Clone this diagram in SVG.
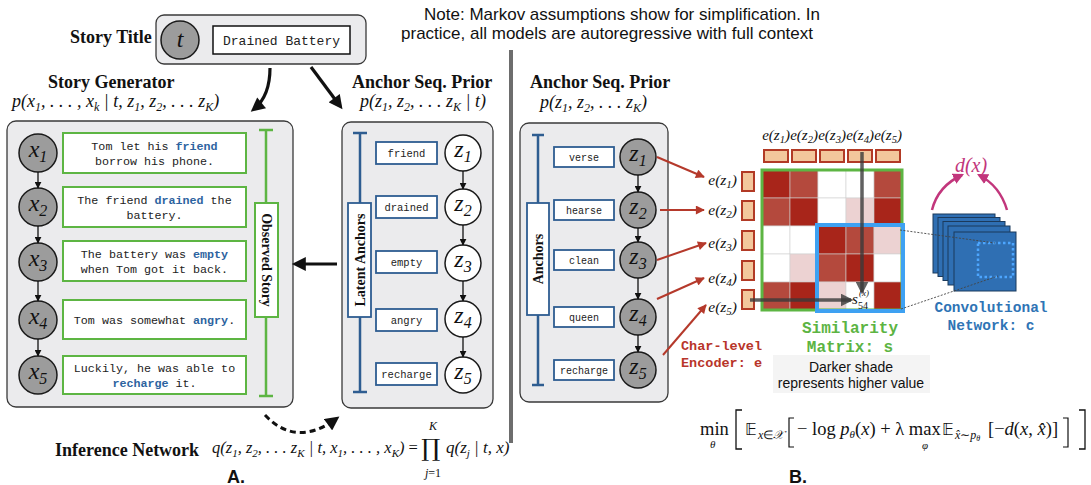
<svg xmlns="http://www.w3.org/2000/svg" width="1091" height="485" viewBox="0 0 1091 485">
  <defs>
    <marker id="ah" viewBox="0 0 10 10" refX="7" refY="5" markerWidth="15" markerHeight="14" markerUnits="userSpaceOnUse" orient="auto">
      <path d="M0,0 L10,5 L0,10 z" fill="#111"/>
    </marker>
    <marker id="sa" viewBox="0 0 10 10" refX="9" refY="5" markerWidth="7" markerHeight="7" markerUnits="userSpaceOnUse" orient="auto">
      <path d="M0,0 L10,5 L0,10 z" fill="#111"/>
    </marker>
    <marker id="ra" viewBox="0 0 10 10" refX="9" refY="5" markerWidth="10" markerHeight="9" markerUnits="userSpaceOnUse" orient="auto">
      <path d="M0,0 L10,5 L0,10 z" fill="#b5392b"/>
    </marker>
    <marker id="ga" viewBox="0 0 10 10" refX="8" refY="5" markerWidth="13" markerHeight="13" markerUnits="userSpaceOnUse" orient="auto">
      <path d="M0,0 L10,5 L0,10 z" fill="#3a3a3a" fill-opacity="0.8"/>
    </marker>
    <marker id="ma" viewBox="0 0 10 10" refX="8" refY="5" markerWidth="11" markerHeight="11" markerUnits="userSpaceOnUse" orient="auto">
      <path d="M0,0 L10,5 L0,10 z" fill="#c2367c"/>
    </marker>
    <style>
      .panel { fill:#ebebed; stroke:#3a3a3a; stroke-width:1.3 }
      .gc { fill:#9c9c9c; stroke:#1a1a1a; stroke-width:1.5 }
      .wc { fill:#fff; stroke:#1a1a1a; stroke-width:1.5 }
      .sbox { fill:#fff; stroke:#5db543; stroke-width:2 }
      .wbox { fill:#fff; stroke:#2e5d91; stroke-width:1.8 }
      .tb { font-family:"Liberation Serif",serif; font-weight:bold; font-size:18px; fill:#111 }
      .rb { font-family:"Liberation Serif",serif; font-weight:bold; font-size:14px; fill:#111 }
      .mi { font-family:"Liberation Serif",serif; font-style:italic; fill:#111 }
      .rm { font-family:"Liberation Serif",serif; fill:#111 }
      .mono { font-family:"Liberation Mono",monospace; fill:#222 }
      .hl { font-weight:bold; fill:#2d63a0 }
      .sans { font-family:"Liberation Sans",Arial,sans-serif; fill:#111 }
      .red-t { font-family:"Liberation Mono",monospace; font-weight:bold; font-size:13.5px; fill:#b8352a }
      .green-t { font-family:"Liberation Mono",monospace; font-weight:bold; font-size:16px; fill:#5cb443 }
      .blue-t { font-family:"Liberation Mono",monospace; font-weight:bold; font-size:14.5px; fill:#2f74b5 }
      .chain { stroke:#111; stroke-width:1.3; fill:none; marker-end:url(#sa) }
      .thick { stroke:#111; stroke-width:3.2; fill:none; marker-end:url(#ah) }
      .red { stroke:#b5392b; stroke-width:2; fill:none; marker-end:url(#ra) }
      .gbr { stroke:#5db543; stroke-width:2.5; fill:none }
      .bbr { stroke:#2e5d91; stroke-width:2.5; fill:none }
      .peach { fill:#f3c79c; stroke:#b23a25; stroke-width:2 }
      .D { fill:#a8251a } .M { fill:#b4493d } .L { fill:#ecd2d2 } .W { fill:#ffffff }
      .layer { fill:#2f6fb3; stroke:#1b3a5c; stroke-width:1 }
    </style>
  </defs>

  <!-- header note -->
  <g id="note" class="sans" font-size="17" text-anchor="middle">
    <text x="622" y="20">Note: Markov assumptions show for simplification. In</text>
    <text x="607" y="39">practice, all models are autoregressive with full context</text>
  </g>

  <!-- divider between the two halves -->
  <line x1="511" y1="50" x2="511" y2="443" stroke="#6d6d6d" stroke-width="4"/>

  <!-- ============ A. ============ -->
  <g id="story-title">
    <text x="70" y="43" class="tb">Story Title</text>
    <rect x="156" y="15" width="210" height="49" rx="8" class="panel"/>
    <circle cx="180" cy="40" r="19" class="gc"/>
    <text x="180" y="47" class="mi" font-size="24" text-anchor="middle">t</text>
    <rect x="213" y="26" width="137" height="28" fill="#fff" stroke="#111" stroke-width="1.5"/>
    <text x="281.5" y="45" class="mono" font-size="13" text-anchor="middle">Drained Battery</text>
  </g>

  <g id="story-generator">
    <text x="48" y="88" class="tb">Story Generator</text>
    <text x="12" y="107" class="mi" font-size="18">p(x<tspan dy="4" font-size="12">1</tspan><tspan dy="-4">, . . . , x</tspan><tspan dy="4" font-size="12">k</tspan><tspan dy="-4"> | t, z</tspan><tspan dy="4" font-size="12">1</tspan><tspan dy="-4">, z</tspan><tspan dy="4" font-size="12">2</tspan><tspan dy="-4">, . . . z</tspan><tspan dy="4" font-size="12">K</tspan><tspan dy="-4">)</tspan></text>
    <rect x="7" y="121" width="286" height="286" rx="9" class="panel"/>
  </g>

  <g id="x-nodes" class="mi" text-anchor="middle">
    <circle cx="38" cy="153" r="19" class="gc"/>
    <text x="38" y="157" font-size="24">x<tspan dy="5" font-size="16">1</tspan></text>
    <circle cx="38" cy="207" r="19" class="gc"/>
    <text x="38" y="211" font-size="24">x<tspan dy="5" font-size="16">2</tspan></text>
    <circle cx="38" cy="262" r="19" class="gc"/>
    <text x="38" y="266" font-size="24">x<tspan dy="5" font-size="16">3</tspan></text>
    <circle cx="38" cy="320" r="19" class="gc"/>
    <text x="38" y="324" font-size="24">x<tspan dy="5" font-size="16">4</tspan></text>
    <circle cx="38" cy="375" r="19" class="gc"/>
    <text x="38" y="379" font-size="24">x<tspan dy="5" font-size="16">5</tspan></text>
  </g>

  <g id="sentences" class="mono" font-size="11.7" text-anchor="middle">
    <rect x="63" y="133" width="183" height="40" class="sbox"/>
    <text x="154.5" y="150">Tom let his <tspan class="hl">friend</tspan></text>
    <text x="154.5" y="165">borrow his phone.</text>
    <rect x="63" y="187" width="183" height="40" class="sbox"/>
    <text x="154.5" y="204">The friend <tspan class="hl">drained</tspan> the</text>
    <text x="154.5" y="219">battery.</text>
    <rect x="63" y="241" width="183" height="40" class="sbox"/>
    <text x="154.5" y="258">The battery was <tspan class="hl">empty</tspan></text>
    <text x="154.5" y="273">when Tom got it back.</text>
    <rect x="63" y="300" width="183" height="39" class="sbox"/>
    <text x="154.5" y="324">Tom was somewhat <tspan class="hl">angry</tspan>.</text>
    <rect x="63" y="356" width="183" height="38" class="sbox"/>
    <text x="154.5" y="372">Luckily, he was able to</text>
    <text x="154.5" y="387"><tspan class="hl">recharge</tspan> it.</text>
  </g>

  <g id="observed-story">
    <path class="gbr" d="M266,130 V396 M259,130 H273 M259,396 H273"/>
    <rect x="255" y="203" width="23" height="114" fill="#fff" stroke="#5db543" stroke-width="2"/>
    <text x="266.5" y="265" class="rb" text-anchor="middle" transform="rotate(90 266.5 260)">Observed Story</text>
  </g>

  <g id="anchor-prior-a">
    <text x="352" y="88" class="tb">Anchor Seq. Prior</text>
    <text x="360" y="107" class="mi" font-size="18">p(z<tspan dy="4" font-size="12">1</tspan><tspan dy="-4">, z</tspan><tspan dy="4" font-size="12">2</tspan><tspan dy="-4">, . . . z</tspan><tspan dy="4" font-size="12">K</tspan><tspan dy="-4"> | t)</tspan></text>
    <rect x="342" y="122" width="151" height="286" rx="9" class="panel"/>
  </g>

  <g id="latent-anchors">
    <path class="bbr" d="M360,133 V392 M353,133 H367 M353,392 H367"/>
    <rect x="348" y="203" width="23" height="114" fill="#fff" stroke="#2e5d91" stroke-width="1.8"/>
    <text x="359.5" y="265" class="rb" text-anchor="middle" transform="rotate(-90 359.5 260)">Latent Anchors</text>
  </g>

  <g id="anchor-words-a" class="mono" font-size="10.5" text-anchor="middle">
    <rect x="376" y="142" width="61" height="22" class="wbox"/>
    <text x="406.5" y="157">friend</text>
    <rect x="376" y="196" width="61" height="22" class="wbox"/>
    <text x="406.5" y="211">drained</text>
    <rect x="376" y="251" width="61" height="22" class="wbox"/>
    <text x="406.5" y="266">empty</text>
    <rect x="376" y="309" width="61" height="22" class="wbox"/>
    <text x="406.5" y="324">angry</text>
    <rect x="376" y="363" width="61" height="22" class="wbox"/>
    <text x="406.5" y="378">recharge</text>
  </g>

  <g id="z-nodes-a" class="mi" text-anchor="middle">
    <circle cx="463" cy="153" r="18" class="wc"/>
    <text x="463" y="157" font-size="24">z<tspan dy="5" font-size="16">1</tspan></text>
    <circle cx="463" cy="207" r="18" class="wc"/>
    <text x="463" y="211" font-size="24">z<tspan dy="5" font-size="16">2</tspan></text>
    <circle cx="463" cy="263" r="18" class="wc"/>
    <text x="463" y="267" font-size="24">z<tspan dy="5" font-size="16">3</tspan></text>
    <circle cx="463" cy="319" r="18" class="wc"/>
    <text x="463" y="323" font-size="24">z<tspan dy="5" font-size="16">4</tspan></text>
    <circle cx="463" cy="375" r="18" class="wc"/>
    <text x="463" y="379" font-size="24">z<tspan dy="5" font-size="16">5</tspan></text>
  </g>

  <g id="inference-network">
    <text x="55" y="456" class="tb">Inference Network</text>
    <text x="212" y="453" class="mi" font-size="16.5">q(z<tspan dy="4" font-size="11">1</tspan><tspan dy="-4">, z</tspan><tspan dy="4" font-size="11">2</tspan><tspan dy="-4">, . . . z</tspan><tspan dy="4" font-size="11">K</tspan><tspan dy="-4"> | t, x</tspan><tspan dy="4" font-size="11">1</tspan><tspan dy="-4">, . . . , x</tspan><tspan dy="4" font-size="11">K</tspan><tspan dy="-4">) </tspan><tspan font-style="normal">=</tspan></text>
    <text x="421" y="456" font-family="DejaVu Serif" font-size="24" fill="#111">∏</text>
    <text x="433" y="430" class="mi" font-size="12" text-anchor="middle">K</text>
    <text x="433" y="477" class="mi" font-size="12" text-anchor="middle">j<tspan font-style="normal">=1</tspan></text>
    <text x="446" y="453" class="mi" font-size="17">q(z<tspan dy="4" font-size="11">j</tspan><tspan dy="-4"> | t, x)</tspan></text>
  </g>

  <text id="label-a" x="227" y="483" class="sans" font-size="18" font-weight="bold">A.</text>

  <!-- ============ B. ============ -->
  <g id="anchor-prior-b">
    <text x="530" y="88" class="tb">Anchor Seq. Prior</text>
    <text x="540" y="108" class="mi" font-size="18">p(z<tspan dy="4" font-size="12">1</tspan><tspan dy="-4">, z</tspan><tspan dy="4" font-size="12">2</tspan><tspan dy="-4">, . . . z</tspan><tspan dy="4" font-size="12">K</tspan><tspan dy="-4">)</tspan></text>
    <rect x="520" y="123" width="148" height="279" rx="9" class="panel"/>
  </g>

  <g id="anchors-b">
    <path class="bbr" d="M538,135 V385 M532,135 H544 M532,385 H544"/>
    <rect x="527" y="203" width="22" height="112" fill="#fff" stroke="#2e5d91" stroke-width="1.8"/>
    <text x="538" y="264" class="rb" text-anchor="middle" transform="rotate(-90 538 259)">Anchors</text>
  </g>

  <g id="anchor-words-b" class="mono" font-size="10" text-anchor="middle">
    <rect x="554" y="147" width="60" height="20" class="wbox"/>
    <text x="584" y="161">verse</text>
    <rect x="554" y="200" width="60" height="20" class="wbox"/>
    <text x="584" y="214">hearse</text>
    <rect x="554" y="250" width="60" height="20" class="wbox"/>
    <text x="584" y="264">clean</text>
    <rect x="554" y="307" width="60" height="20" class="wbox"/>
    <text x="584" y="321">queen</text>
    <rect x="554" y="360" width="60" height="20" class="wbox"/>
    <text x="584" y="374">recharge</text>
  </g>

  <g id="z-nodes-b" class="mi" text-anchor="middle">
    <circle cx="638" cy="157" r="18" class="gc"/>
    <text x="638" y="161" font-size="24">z<tspan dy="5" font-size="16">1</tspan></text>
    <circle cx="638" cy="210" r="18" class="gc"/>
    <text x="638" y="214" font-size="24">z<tspan dy="5" font-size="16">2</tspan></text>
    <circle cx="638" cy="260" r="18" class="gc"/>
    <text x="638" y="264" font-size="24">z<tspan dy="5" font-size="16">3</tspan></text>
    <circle cx="638" cy="317" r="18" class="gc"/>
    <text x="638" y="321" font-size="24">z<tspan dy="5" font-size="16">4</tspan></text>
    <circle cx="638" cy="370" r="18" class="gc"/>
    <text x="638" y="374" font-size="24">z<tspan dy="5" font-size="16">5</tspan></text>
  </g>

  <g id="encoder">
    <g class="mi" font-size="15.5" text-anchor="end">
      <text x="737" y="185">e(z<tspan dy="3" font-size="11">1</tspan><tspan dy="-3">)</tspan></text>
      <text x="737" y="215">e(z<tspan dy="3" font-size="11">2</tspan><tspan dy="-3">)</tspan></text>
      <text x="737" y="248">e(z<tspan dy="3" font-size="11">3</tspan><tspan dy="-3">)</tspan></text>
      <text x="737" y="283">e(z<tspan dy="3" font-size="11">4</tspan><tspan dy="-3">)</tspan></text>
      <text x="737" y="312">e(z<tspan dy="3" font-size="11">5</tspan><tspan dy="-3">)</tspan></text>
    </g>
    <rect x="742" y="172" width="12" height="19" class="peach"/>
    <rect x="742" y="201" width="12" height="19" class="peach"/>
    <rect x="742" y="231" width="12" height="19" class="peach"/>
    <rect x="742" y="261" width="12" height="19" class="peach"/>
    <rect x="742" y="290" width="12" height="19" class="peach"/>
    <g class="mi" font-size="15" text-anchor="middle">
      <text x="776" y="140">e(z<tspan dy="3" font-size="10.5">1</tspan><tspan dy="-3">)</tspan></text>
      <text x="804" y="140">e(z<tspan dy="3" font-size="10.5">2</tspan><tspan dy="-3">)</tspan></text>
      <text x="832" y="140">e(z<tspan dy="3" font-size="10.5">3</tspan><tspan dy="-3">)</tspan></text>
      <text x="860" y="140">e(z<tspan dy="3" font-size="10.5">4</tspan><tspan dy="-3">)</tspan></text>
      <text x="888" y="140">e(z<tspan dy="3" font-size="10.5">5</tspan><tspan dy="-3">)</tspan></text>
    </g>
    <rect x="764" y="150" width="24" height="12" class="peach"/>
    <rect x="792" y="150" width="24" height="12" class="peach"/>
    <rect x="820" y="150" width="24" height="12" class="peach"/>
    <rect x="848" y="150" width="24" height="12" class="peach"/>
    <rect x="876" y="150" width="24" height="12" class="peach"/>
    <text x="681" y="350" class="red-t">Char-level</text>
    <text x="681" y="367" class="red-t">Encoder: e</text>
  </g>

  <g id="similarity-matrix">
    <g stroke="#cfcfcf" stroke-width="0.6">
      <rect x="762" y="170" width="28" height="28" class="D"/><rect x="790" y="170" width="28" height="28" class="M"/><rect x="818" y="170" width="28" height="28" class="W"/><rect x="846" y="170" width="28" height="28" class="W"/><rect x="874" y="170" width="28" height="28" class="M"/>
      <rect x="762" y="198" width="28" height="28" class="M"/><rect x="790" y="198" width="28" height="28" class="D"/><rect x="818" y="198" width="28" height="28" class="W"/><rect x="846" y="198" width="28" height="28" class="L"/><rect x="874" y="198" width="28" height="28" class="D"/>
      <rect x="762" y="226" width="28" height="28" class="W"/><rect x="790" y="226" width="28" height="28" class="W"/><rect x="818" y="226" width="28" height="28" class="D"/><rect x="846" y="226" width="28" height="28" class="M"/><rect x="874" y="226" width="28" height="28" class="L"/>
      <rect x="762" y="254" width="28" height="28" class="W"/><rect x="790" y="254" width="28" height="28" class="L"/><rect x="818" y="254" width="28" height="28" class="M"/><rect x="846" y="254" width="28" height="28" class="D"/><rect x="874" y="254" width="28" height="28" class="W"/>
      <rect x="762" y="282" width="28" height="28" class="M"/><rect x="790" y="282" width="28" height="28" class="D"/><rect x="818" y="282" width="28" height="28" class="L"/><rect x="846" y="282" width="28" height="28" class="W"/><rect x="874" y="282" width="28" height="28" class="D"/>
    </g>
    <rect x="762" y="170" width="140" height="140" fill="none" stroke="#5db543" stroke-width="3"/>
    <rect x="817" y="225" width="86" height="86" fill="none" stroke="#3ea1f2" stroke-width="4"/>
    <text x="852" y="304" class="mi" font-size="15">s</text>
    <text x="859" y="296" class="mi" font-size="9">(x)</text>
    <text x="858" y="309" class="rm" font-size="10">54</text>
    <text x="850" y="333" class="green-t" text-anchor="middle">Similarity</text>
    <text x="850" y="352" class="green-t" text-anchor="middle">Matrix: s</text>
    <rect x="773" y="355" width="157" height="38" fill="#f4f4f4"/>
    <text x="851" y="372" class="sans" font-size="14" text-anchor="middle">Darker shade</text>
    <text x="851" y="388" class="sans" font-size="14" text-anchor="middle">represents higher value</text>
  </g>

  <g id="conv-network">
    <rect x="933" y="214" width="62" height="59" class="layer"/>
    <rect x="938" y="217.5" width="62" height="59" class="layer"/>
    <rect x="943" y="221.5" width="62" height="59" class="layer"/>
    <rect x="948" y="226" width="62" height="59" class="layer"/>
    <rect x="954" y="232" width="62" height="59" class="layer"/>
    <rect x="978" y="243" width="35" height="34" fill="none" stroke="#4da6ff" stroke-width="2.5" stroke-dasharray="2.5,2.5"/>
    <text x="991" y="312" class="blue-t" text-anchor="middle">Convolutional</text>
    <text x="991" y="330" class="blue-t" text-anchor="middle">Network: c</text>
    <text x="971" y="172" class="mi" font-size="20" text-anchor="middle" style="fill:#c2367c">d(x)</text>
  </g>

  <g id="loss" class="rm" font-size="18.5">
    <text x="700" y="435">min</text>
    <text x="710" y="448" class="mi" font-size="11">θ</text>
    <path d="M742,410 H736 V449 H742" fill="none" stroke="#111" stroke-width="1.3"/>
    <text x="745" y="435" font-family="DejaVu Sans" font-size="16">𝔼</text>
    <text x="758" y="439" class="mi" font-size="12">x<tspan font-style="normal">∈</tspan>𝒳</text>
    <path d="M794,418 H789 V447 H794" fill="none" stroke="#111" stroke-width="1.2"/>
    <text x="797" y="435">− log <tspan font-style="italic">p</tspan><tspan dy="3" font-size="11" font-style="italic">θ</tspan><tspan dy="-3">(</tspan><tspan font-style="italic">x</tspan>) + λ max</text>
    <text x="922" y="449" class="mi" font-size="11">φ</text>
    <text x="942" y="435" font-family="DejaVu Sans" font-size="16">𝔼</text>
    <text x="955" y="439" class="mi" font-size="12">x̂<tspan font-style="normal">∼</tspan>p<tspan dy="2" font-size="8">θ</tspan></text>
    <text x="988" y="435">[−<tspan font-style="italic">d</tspan>(<tspan font-style="italic">x</tspan>, <tspan font-style="italic">x̂</tspan>)]</text>
    <path d="M1063,418 H1068 V447 H1063" fill="none" stroke="#111" stroke-width="1.2"/>
    <path d="M1079,410 H1085 V449 H1079" fill="none" stroke="#111" stroke-width="1.3"/>
  </g>

  <text id="label-b" x="789" y="483" class="sans" font-size="18" font-weight="bold">B.</text>

  <!-- connectors -->
  <g id="connectors">
    <path class="thick" d="M270,68 Q270,96 254,109"/>
    <path class="thick" d="M311,67 L340,106"/>
    <path class="thick" d="M337,264 L296,264"/>
    <path d="M265,415 Q296,448 336,419" fill="none" stroke="#111" stroke-width="3" stroke-dasharray="6,4" marker-end="url(#ah)"/>
    <path class="chain" d="M38,172 V188"/>
    <path class="chain" d="M38,226 V243"/>
    <path class="chain" d="M38,281 V301"/>
    <path class="chain" d="M38,339 V356"/>
    <path class="chain" d="M463,171 V189"/>
    <path class="chain" d="M463,225 V245"/>
    <path class="chain" d="M463,281 V301"/>
    <path class="chain" d="M463,337 V357"/>
    <path class="chain" d="M638,175 V192"/>
    <path class="chain" d="M638,228 V242"/>
    <path class="chain" d="M638,278 V299"/>
    <path class="chain" d="M638,335 V352"/>
    <path class="red" d="M657,157 L704,177"/>
    <path class="red" d="M660,210 L704,210"/>
    <path class="red" d="M657,260 L706,243"/>
    <path class="red" d="M657,299 L704,278"/>
    <path class="red" d="M663,355 L706,305"/>
    <path d="M862,152 V292" stroke="#3a3a3a" stroke-opacity="0.8" stroke-width="3.5" fill="none" marker-end="url(#ga)"/>
    <path d="M750,300 H851" stroke="#3a3a3a" stroke-opacity="0.8" stroke-width="3.5" fill="none" marker-end="url(#ga)"/>
    <path d="M900,230 L995,243 M901,309 L998,276" stroke="#444" stroke-width="0.9" stroke-dasharray="2,1.5" fill="none"/>
    <path d="M932,210 Q938,186 962,175" fill="none" stroke="#c2367c" stroke-width="2.5" marker-end="url(#ma)"/>
    <path d="M1007,210 Q1000,186 979,175" fill="none" stroke="#c2367c" stroke-width="2.5" marker-end="url(#ma)"/>
  </g>
</svg>
